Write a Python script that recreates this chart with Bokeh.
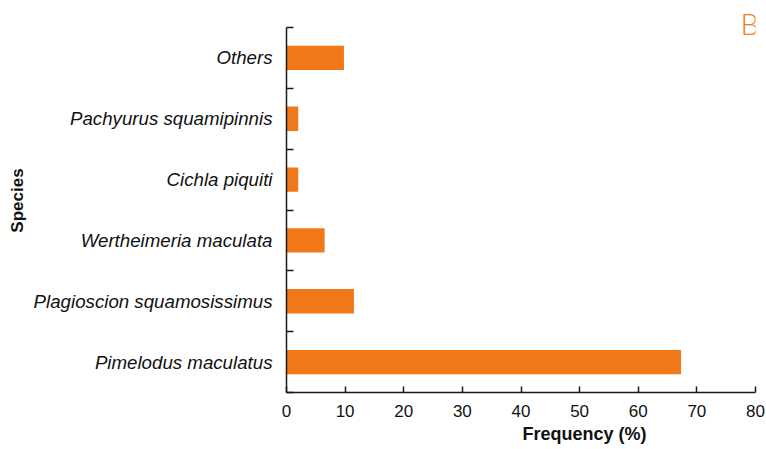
import numpy as np
from bokeh.plotting import figure
from bokeh.models import Range1d, FixedTicker, Label, ColumnDataSource, Title
from bokeh.embed import file_html
from bokeh.resources import INLINE

# ---- data ----
species = [
    "Pimelodus maculatus",
    "Plagioscion squamosissimus",
    "Wertheimeria maculata",
    "Cichla piquiti",
    "Pachyurus squamipinnis",
    "Others",
]
frequency = [67.3, 11.5, 6.5, 2.0, 2.0, 9.8]
x_ticks = [0, 10, 20, 30, 40, 50, 60, 70, 80]
x_label = "Frequency (%)"
y_label = "Species"
panel_letter = "B"

BAR = "#F07818"
AX = "#1a1a1a"
FONT = "Liberation Sans"

n = len(species)
pos = np.arange(n) + 0.5
src = ColumnDataSource(dict(y=pos, right=frequency, name=species))

# frame spans 8..392 px; the axis itself (0..n) spans 27..392 px
y_top = n * (392 - 8) / (392 - 27)

p = figure(
    width=766, height=449,
    x_range=Range1d(x_ticks[0], x_ticks[-1]),
    y_range=Range1d(0, y_top),
    output_backend="svg", toolbar_location=None,
    min_border_left=286, min_border_right=11,
    min_border_top=8, min_border_bottom=57,
)
p.outline_line_color = None
p.xgrid.grid_line_color = None
p.ygrid.grid_line_color = None
p.background_fill_color = "white"
p.border_fill_color = "white"

p.hbar(y="y", right="right", left=0, height=0.4, source=src,
       fill_color=BAR, line_color=None)

# y axis: labels at category centres, tick marks at boundaries
ya = p.yaxis[0]
ya.bounds = (0, n)
ya.ticker = FixedTicker(ticks=list(pos), minor_ticks=list(range(n + 1)))
ya.major_label_overrides = {float(v): s for v, s in zip(pos, species)}
ya.major_tick_in = 0
ya.major_tick_out = 0
ya.minor_tick_in = 7
ya.minor_tick_out = 0
ya.minor_tick_line_color = AX
ya.minor_tick_line_width = 1.5
ya.axis_line_color = AX
ya.axis_line_width = 1.5
ya.major_label_text_font = FONT
ya.major_label_text_font_style = "italic"
ya.major_label_text_font_size = "18.7px"
ya.major_label_text_color = "#111111"
ya.major_label_standoff = 14
ya.axis_label = y_label
ya.axis_label_text_font = FONT
ya.axis_label_text_font_style = "bold"
ya.axis_label_text_font_size = "17px"
ya.axis_label_text_color = "#111111"
ya.axis_label_standoff = 4

xa = p.xaxis[0]
xa.ticker = FixedTicker(ticks=x_ticks, minor_ticks=[])
xa.major_tick_in = 6
xa.major_tick_out = 0
xa.major_tick_line_color = AX
xa.major_tick_line_width = 1.5
xa.axis_line_color = AX
xa.axis_line_width = 1.5
xa.major_label_text_font = FONT
xa.major_label_text_font_size = "17px"
xa.major_label_text_color = "#111111"
xa.major_label_standoff = 12

p.add_layout(Title(text=x_label, align="left", offset=236,
                   text_font=FONT, text_font_style="bold",
                   text_font_size="18px", text_color="#111111",
                   standoff=4), "below")

p.add_layout(Label(x=79.0, y=n + 0.06, text=panel_letter,
                   text_font="Lato Light", text_font_size="29px",
                   text_color="#F47B20", text_align="center",
                   text_baseline="middle"))

open("out.html", "w").write(file_html(p, INLINE))
